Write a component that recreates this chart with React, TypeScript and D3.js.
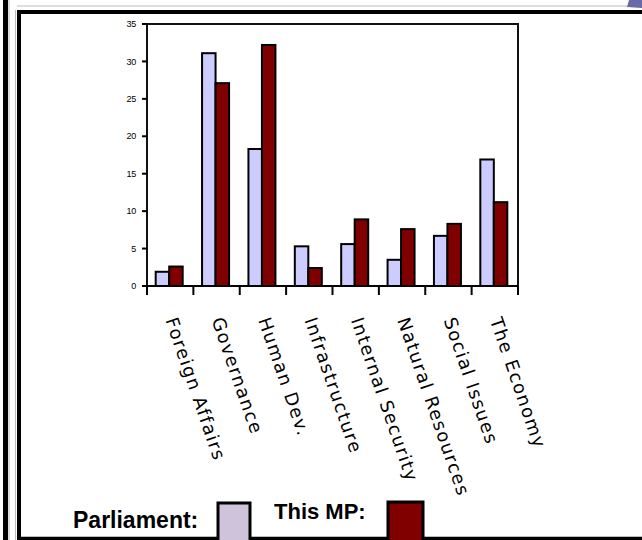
import React from "react";
import * as d3 from "d3";

const categories = [
  "Foreign Affairs",
  "Governance",
  "Human Dev.",
  "Infrastructure",
  "Internal Security",
  "Natural Resources",
  "Social Issues",
  "The Economy",
];
const parliament = [1.9, 31.1, 18.3, 5.3, 5.6, 3.5, 6.7, 16.9];
const thisMP = [2.6, 27.1, 32.2, 2.4, 8.9, 7.6, 8.3, 11.2];
const yTicks = [0, 5, 10, 15, 20, 25, 30, 35];
const seriesNames = ["Parliament", "This MP"];
const seriesColors = ["#CCCCFF", "#800000"];

export default function App() {
  const W = 642;
  const H = 540;
  const left = 147;
  const right = 518;
  const top = 24;
  const bottom = 286;

  const x = d3.scaleBand<string>().domain(categories).range([left, right]);
  const y = d3.scaleLinear().domain([0, 35]).range([bottom, top]);
  const groupW = 27;
  const x1 = d3.scaleBand<string>().domain(seriesNames).range([0, groupW]);
  const off = (x.bandwidth() - groupW) / 2 - 1;
  const seriesValues = [parliament, thisMP];

  return (
    <svg
      width={W}
      height={H}
      style={{ position: "absolute", left: 0, top: 0, background: "#fff" }}
    >
      {/* page frame */}
      <rect x={0} y={0} width={W} height={H} fill="#fff" />
      <rect x={3} y={0} width={5} height={H} fill="#000" />
      <line x1={9} y1={0} x2={9} y2={H} stroke="#bbb" strokeWidth={1} />
      <line x1={15.5} y1={10} x2={15.5} y2={H} stroke="#bbb" strokeWidth={1} />
      <line x1={17} y1={6} x2={W} y2={6} stroke="#bbb" strokeWidth={1} />
      <rect x={17} y={10} width={W - 17} height={4} fill="#000" />
      <rect x={17} y={10} width={4} height={H - 10} fill="#000" />
      <rect x={21} y={537} width={W - 21} height={3} fill="#000" />
      <line x1={21} y1={536.5} x2={W} y2={536.5} stroke="#bbb" strokeWidth={1} />
      <path d="M629,0 L642,0 L642,8 L627,7 Z" fill="#6a6aa8" />

      {/* plot box */}
      <rect
        x={left}
        y={top}
        width={right - left}
        height={bottom - top}
        fill="none"
        stroke="#111"
        strokeWidth={2}
      />

      {/* y ticks */}
      {yTicks.map((t) => (
        <g key={t}>
          <line x1={142} x2={left} y1={y(t)} y2={y(t)} stroke="#000" strokeWidth={2} />
          <text
            x={136}
            y={y(t)}
            dy="0.35em"
            textAnchor="end"
            fontFamily="Liberation Sans Narrow, Liberation Sans, Arial, sans-serif"
            fontSize={9}
            fill="#000"
            letterSpacing={-0.3}
          >
            {t}
          </text>
        </g>
      ))}

      {/* x ticks */}
      {[...categories.map((c) => x(c) as number), right].map((px, i) => (
        <line
          key={i}
          x1={px}
          x2={px}
          y1={bottom}
          y2={295}
          stroke="#000"
          strokeWidth={2}
        />
      ))}

      {/* bars */}
      {categories.map((c, ci) => (
        <g key={c} transform={`translate(${(x(c) as number) + off},0)`}>
          {seriesNames.map((s, si) => {
            const v = seriesValues[si][ci];
            return (
              <rect
                key={s}
                x={x1(s) as number}
                y={y(v)}
                width={x1.bandwidth()}
                height={y(0) - y(v)}
                fill={seriesColors[si]}
                stroke="#000"
                strokeWidth={2}
              />
            );
          })}
        </g>
      ))}

      {/* zero line */}
      <line x1={left} x2={right} y1={bottom} y2={bottom} stroke="#000" strokeWidth={2} />

      {/* category labels */}
      {categories.map((c) => {
        const cx = (x(c) as number) + x.bandwidth() / 2;
        return (
          <text
            key={c}
            transform={`translate(${cx - 5},320) rotate(71)`}
            fontFamily="DejaVu Sans, Verdana, sans-serif"
            fontSize={18}
            letterSpacing={1.4}
            fill="#000"
          >
            {c}
          </text>
        );
      })}

      {/* legend */}
      <text
        x={73}
        y={528}
        fontFamily="Liberation Sans, Arial, sans-serif"
        fontWeight="bold"
        fontSize={23}
        fill="#000"
      >
        Parliament:
      </text>
      <rect x={218} y={503} width={32} height={40} fill="#cfc3dc" stroke="#000" strokeWidth={3} />
      <text
        x={274}
        y={519}
        fontFamily="Liberation Sans, Arial, sans-serif"
        fontWeight="bold"
        fontSize={22}
        fill="#000"
      >
        This MP:
      </text>
      <rect x={388} y={502} width={35} height={40} fill="#800000" stroke="#000" strokeWidth={3} />
    </svg>
  );
}
